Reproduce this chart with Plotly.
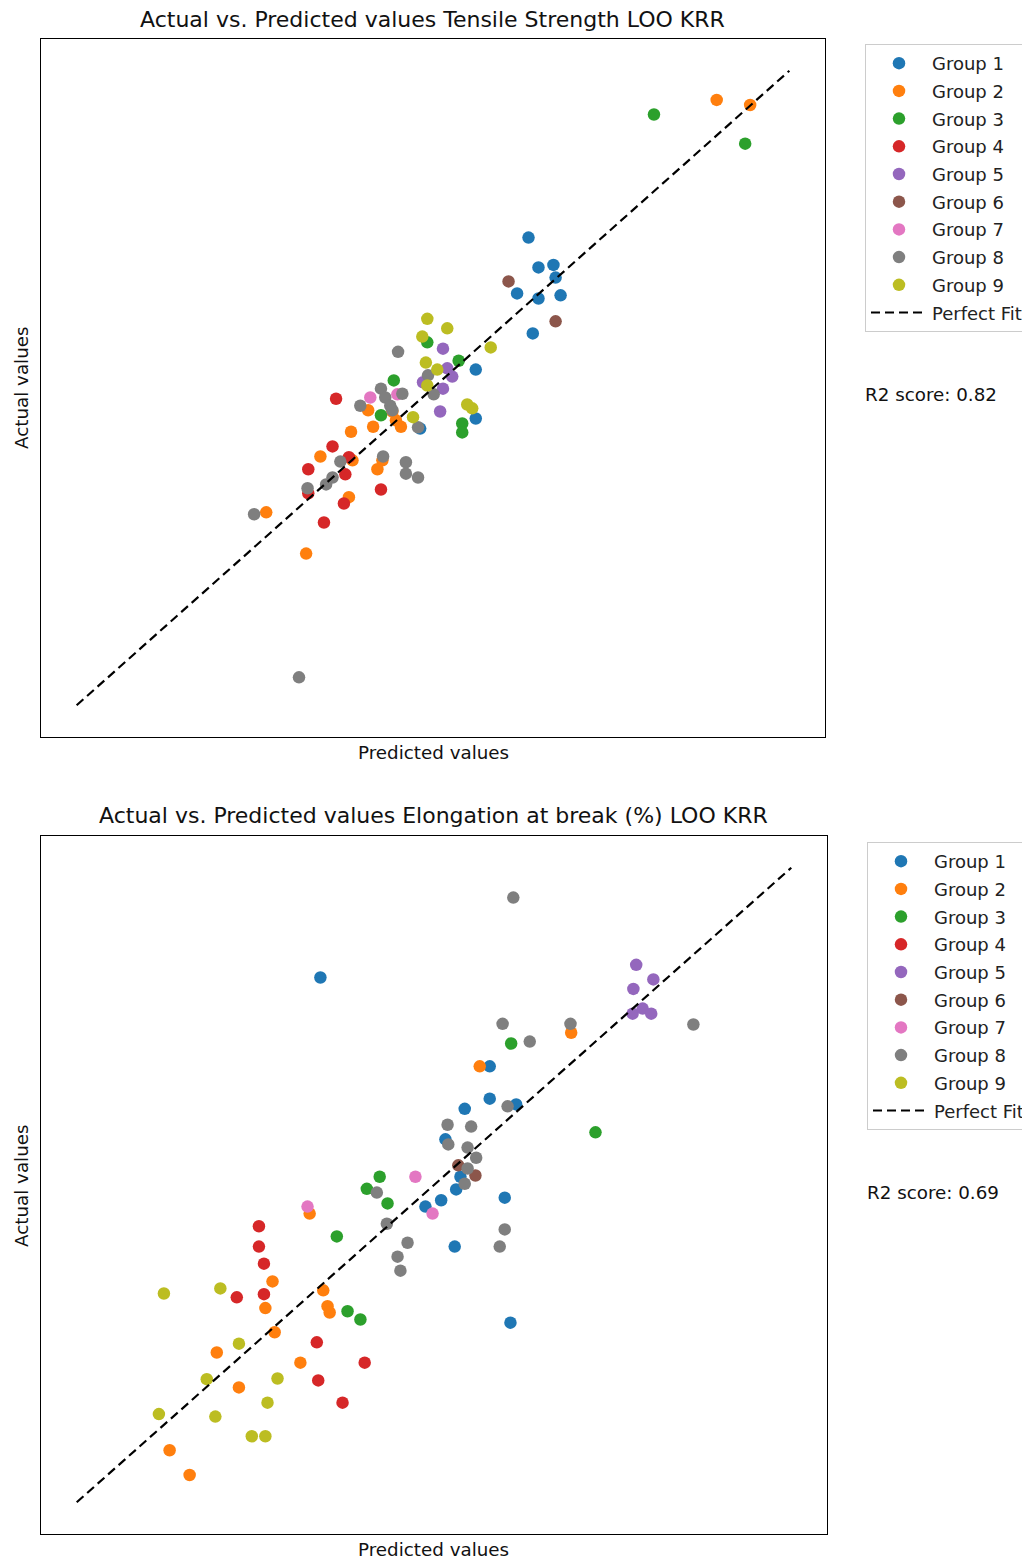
import plotly.graph_objects as go

# ---------------- data (arbitrary units, perfect-fit line spans 0..100) ----------------
groups = ["Group 1", "Group 2", "Group 3", "Group 4", "Group 5",
          "Group 6", "Group 7", "Group 8", "Group 9"]
colors = ["#1f77b4", "#ff7f0e", "#2ca02c", "#d62728", "#9467bd",
          "#8c564b", "#e377c2", "#7f7f7f", "#bcbd22"]

# Tensile strength: predicted (x) and actual (y) per group
ts_pred = [
    [63.4, 64.8, 66.9, 67.2, 61.8, 64.8, 67.9, 64.0, 56.0, 56.0, 48.2],
    [89.8, 94.5, 40.9, 41.6, 38.5, 34.2, 38.7, 42.9, 42.2, 38.2, 26.6, 32.2, 44.3, 44.8, 45.5],
    [81.0, 93.8, 49.2, 53.6, 44.5, 42.7, 54.1, 54.1],
    [36.4, 35.9, 38.2, 32.5, 37.7, 32.5, 37.5, 42.7, 34.7],
    [51.4, 52.0, 52.7, 48.6, 51.4, 51.0],
    [60.6, 67.2],
    [41.2, 45.0],
    [31.2, 24.9, 32.4, 35.0, 35.9, 37.0, 43.0, 46.2, 46.2, 47.9, 39.8, 42.7, 43.3, 44.0,
     44.3, 45.7, 45.1, 49.3, 50.1, 47.9],
    [49.2, 52.0, 48.5, 58.1, 49.0, 50.6, 49.2, 54.8, 55.5, 47.2],
]
ts_act = [
    [73.7, 69.0, 69.4, 67.4, 64.9, 64.1, 64.6, 58.6, 52.9, 45.2, 43.6],
    [95.4, 94.6, 46.5, 43.9, 43.1, 39.2, 38.6, 38.6, 37.2, 32.8, 30.4, 23.9, 46.3, 44.9, 43.9],
    [93.1, 88.5, 57.2, 54.3, 51.2, 45.7, 44.4, 43.0],
    [48.3, 40.8, 39.1, 37.2, 36.4, 33.4, 31.8, 34.0, 28.8],
    [56.2, 53.1, 51.8, 50.9, 49.9, 46.3],
    [66.8, 60.5],
    [48.5, 49.0],
    [4.4, 30.1, 34.2, 34.8, 35.9, 38.4, 39.2, 38.3, 36.5, 35.9, 47.2, 49.9, 48.5, 47.2,
     46.5, 49.1, 55.7, 52.0, 49.0, 43.8],
    [60.9, 59.4, 58.1, 56.4, 54.0, 52.9, 50.4, 47.4, 46.8, 45.4],
]

# Elongation at break: predicted (x) and actual (y) per group
el_pred = [
    [34.1, 57.8, 57.8, 54.3, 61.5, 51.6, 53.7, 53.1, 51.0, 48.8, 59.9, 52.9, 60.7],
    [56.4, 69.2, 32.6, 34.5, 35.1, 35.4, 27.4, 26.4, 27.7, 19.6, 22.7, 13.0, 15.8, 31.3],
    [60.8, 72.6, 42.4, 40.6, 43.5, 36.4, 37.9, 39.7],
    [25.5, 25.5, 26.2, 26.2, 22.4, 33.6, 40.3, 33.8, 37.2],
    [78.3, 80.7, 77.9, 77.8, 79.2, 80.4],
    [53.4, 55.8],
    [47.4, 49.8, 32.3],
    [61.1, 59.6, 69.1, 63.4, 86.3, 60.3, 51.9, 55.2, 52.0, 54.7, 55.9, 54.7, 54.3, 59.9,
     59.2, 46.3, 44.9, 45.3, 42.0, 43.4],
    [12.2, 20.1, 22.7, 18.2, 28.1, 11.5, 19.4, 26.7, 24.5, 26.4],
]
el_act = [
    [82.7, 68.7, 63.6, 62.0, 62.7, 57.2, 51.3, 49.3, 47.6, 46.6, 48.0, 40.3, 28.3],
    [68.7, 74.0, 45.5, 33.4, 30.9, 29.9, 34.8, 30.6, 26.8, 23.6, 18.1, 8.2, 4.3, 22.0],
    [72.3, 58.3, 51.3, 49.4, 47.1, 41.9, 30.1, 28.8],
    [43.5, 40.3, 37.6, 32.8, 32.3, 25.2, 22.0, 19.2, 15.7],
    [84.7, 82.4, 80.9, 77.0, 77.8, 77.0],
    [53.1, 51.5],
    [51.3, 45.5, 46.6],
    [95.3, 75.4, 75.4, 72.6, 75.3, 62.4, 59.5, 59.2, 56.4, 55.9, 54.3, 52.6, 50.2, 43.0,
     40.3, 40.9, 38.7, 36.5, 48.8, 43.9],
    [32.9, 33.7, 25.0, 19.4, 19.5, 13.9, 13.5, 15.7, 10.4, 10.4],
]

fit_line = [0, 100]

titles = ["Actual vs. Predicted values Tensile Strength LOO KRR",
          "Actual vs. Predicted values Elongation at break (%) LOO KRR"]
r2_scores = ["R2 score: 0.82", "R2 score: 0.69"]

# ---------------- figure ----------------
FONT = "DejaVu Sans"
OFF = 8  # page body margin in the browser
W, H = 1030 - OFF, 1562 - OFF
ML, MT = 41 - OFF, 39 - OFF
MR = W - (827 - OFF)
MB = H - (1534 - OFF)
PW, PH = W - ML - MR, H - MT - MB


def px_x(p):
    return (p - OFF - ML) / PW


def px_y(p):
    return (H - MB - (p - OFF)) / PH


fig = go.Figure()

panels = [
    dict(pred=ts_pred, act=ts_act, xa="x", ya="y", legend="legend"),
    dict(pred=el_pred, act=el_act, xa="x2", ya="y2", legend="legend2"),
]
for k, pnl in enumerate(panels):
    for i, g in enumerate(groups):
        fig.add_trace(go.Scatter(
            x=pnl["pred"][i], y=pnl["act"][i], mode="markers", name=g,
            marker=dict(color=colors[i], size=12.5, line=dict(width=0)),
            xaxis=pnl["xa"], yaxis=pnl["ya"], legend=pnl["legend"],
            legendgroup=f"p{k}g{i}",
        ))
    fig.add_trace(go.Scatter(
        x=fit_line, y=fit_line, mode="lines", name="Perfect Fit",
        line=dict(color="black", width=2.2, dash="9px,5px"),
        xaxis=pnl["xa"], yaxis=pnl["ya"], legend=pnl["legend"],
        legendgroup=f"p{k}fit",
    ))

axis_common = dict(range=[-5, 105], showgrid=False, zeroline=False,
                   showticklabels=False, ticks="", showline=True,
                   linecolor="black", linewidth=1, mirror=True)

legend_common = dict(font=dict(family=FONT, size=18, color="#222"),
                     bgcolor="rgba(255,255,255,0.8)", bordercolor="#cccccc",
                     borderwidth=1, tracegroupgap=1.3, xanchor="left",
                     yanchor="top", itemwidth=56)

annotations = []
# titles
for t, xc, yc in [(titles[0], 432, 19), (titles[1], 433, 816)]:
    annotations.append(dict(text=t, x=px_x(xc), y=px_y(yc), xref="paper", yref="paper",
                            showarrow=False, xanchor="center", yanchor="middle",
                            font=dict(family=FONT, size=22, color="#111")))
# axis labels
for yc in (752, 1550):
    annotations.append(dict(text="Predicted values", x=px_x(433), y=px_y(yc),
                            xref="paper", yref="paper", showarrow=False,
                            xanchor="center", yanchor="middle",
                            font=dict(family=FONT, size=18.3, color="#111")))
for yc in (388, 1186):
    annotations.append(dict(text="Actual values", x=px_x(21), y=px_y(yc),
                            xref="paper", yref="paper", showarrow=False, textangle=-90,
                            xanchor="center", yanchor="middle",
                            font=dict(family=FONT, size=18.3, color="#111")))
# R2 scores
for t, xl, yc in [(r2_scores[0], 863, 395), (r2_scores[1], 865, 1192)]:
    annotations.append(dict(text=t, x=px_x(xl), y=px_y(yc), xref="paper", yref="paper",
                            showarrow=False, xanchor="left", yanchor="middle",
                            font=dict(family=FONT, size=18.3, color="#111")))

fig.update_layout(
    width=W, height=H,
    margin=dict(l=ML, r=MR, t=MT, b=MB, autoexpand=False),
    paper_bgcolor="white", plot_bgcolor="white",
    font=dict(family=FONT),
    xaxis=dict(domain=[0, px_x(825)], anchor="y", **axis_common),
    yaxis=dict(domain=[px_y(737), 1], anchor="x", **axis_common),
    xaxis2=dict(domain=[0, 1], anchor="y2", **axis_common),
    yaxis2=dict(domain=[0, px_y(836)], anchor="x2", **axis_common),
    legend=dict(x=px_x(865), y=px_y(44), **legend_common),
    legend2=dict(x=px_x(867), y=px_y(842), **legend_common),
    annotations=annotations,
    showlegend=True,
)

fig.write_html("out.html")
